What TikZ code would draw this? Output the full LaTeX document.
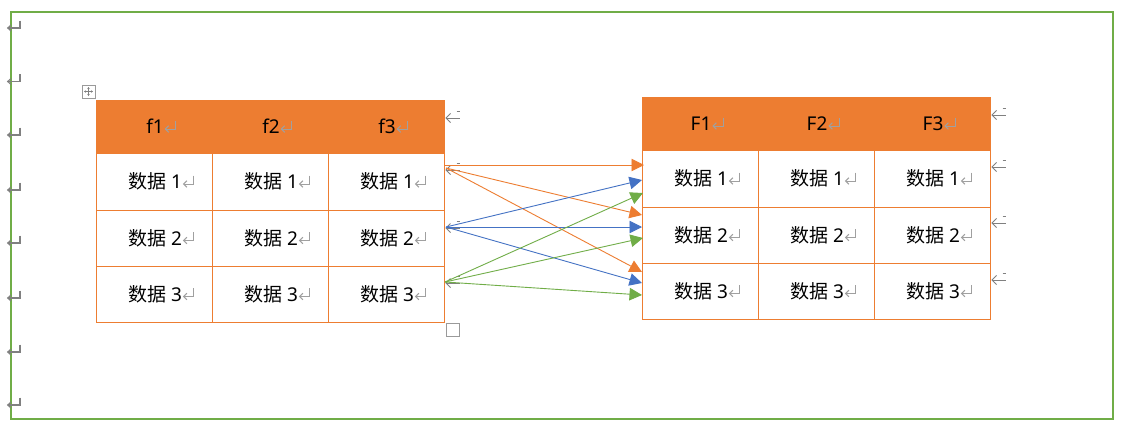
\documentclass[tikz,border=0pt]{standalone}
\usepackage{fontspec}
\setmainfont{Noto Sans}
\newfontfamily\cjk{Noto Sans CJK SC}
\usetikzlibrary{arrows.meta}
\definecolor{orangeA}{HTML}{ED7D31}
\definecolor{blueA}{HTML}{4472C4}
\definecolor{greenA}{HTML}{70AD47}
\definecolor{markgray}{HTML}{808080}
\definecolor{cellmarkc}{HTML}{A0A0A0}
\begin{document}
\begin{tikzpicture}[x=1pt,y=-1pt,
  cellbox/.style={draw=orangeA, line width=1pt, inner sep=0pt, outer sep=0pt, minimum width=116pt},
  headbox/.style={cellbox, fill=orangeA, minimum height=53pt},
  txt/.style={font=\fontsize{19pt}{21pt}\selectfont, inner sep=0pt, text=black},
  conn/.style={line width=0.9pt, -{Triangle[length=12.5pt,width=12.5pt]}},
  cellmark/.pic={\draw[cellmarkc, line width=1pt] (11.5,-6)--(11.5,2.5)--(1.5,2.5); \draw[cellmarkc, line width=1pt] (4.8,-0.8)--(1.5,2.5)--(4.8,5.8);},
  retmark/.pic={\draw[markgray, line width=1.2pt] (6,-7.5)--(6,0)--(-6,0); \draw[markgray, line width=1.1pt] (-3,-3)--(-6.3,0)--(-3,3);},
  rowmark/.pic={\draw[markgray, line width=1pt] (-7,0)--(7,0); \draw[markgray, line width=1pt] (-2.5,-4.5)--(-7,0)--(-2.5,4.5); \draw[markgray, line width=1pt] (3.5,-7)--(7,-7);}
]
\useasboundingbox (0,0) rectangle (1127,432);
\fill[white] (0,0) rectangle (1127,432);
% frame
\draw[greenA, line width=2pt] (11,12) rectangle (1113,419);
% left margin paragraph marks
\foreach \yy in {28,81.5,135,190,243,298,352,405} \pic at (14,\yy) {retmark};

% left table
\foreach \c/\x in {1/154,2/270,3/386} {
  \node[headbox] (Lh\c) at (\x,126.5) {};
  \node[cellbox, minimum height=57pt] (L1\c) at (\x,181.5) {};
  \node[cellbox, minimum height=56pt] (L2\c) at (\x,238) {};
  \node[cellbox, minimum height=56pt] (L3\c) at (\x,294) {};
  \node[txt, xshift=1pt] (Lht\c) at (Lh\c.center) {f\c};
  \node[txt, xshift=1pt] (L1t\c) at (L1\c.center) {{\cjk 数据} 1};
  \node[txt, xshift=1pt] (L2t\c) at (L2\c.center) {{\cjk 数据} 2};
  \node[txt, xshift=1pt] (L3t\c) at (L3\c.center) {{\cjk 数据} 3};
  \pic at (Lht\c.east) {cellmark};
  \pic at (L1t\c.east) {cellmark};
  \pic at (L2t\c.east) {cellmark};
  \pic at (L3t\c.east) {cellmark};
}
% right table
\foreach \c/\x in {1/700,2/816,3/932} {
  \node[headbox] (Rh\c) at (\x,123.5) {};
  \node[cellbox, minimum height=57pt] (R1\c) at (\x,178.5) {};
  \node[cellbox, minimum height=56pt] (R2\c) at (\x,235) {};
  \node[cellbox, minimum height=56pt] (R3\c) at (\x,291) {};
  \node[txt, xshift=1pt] (Rht\c) at (Rh\c.center) {F\c};
  \node[txt, xshift=1pt] (R1t\c) at (R1\c.center) {{\cjk 数据} 1};
  \node[txt, xshift=1pt] (R2t\c) at (R2\c.center) {{\cjk 数据} 2};
  \node[txt, xshift=1pt] (R3t\c) at (R3\c.center) {{\cjk 数据} 3};
  \pic at (Rht\c.east) {cellmark};
  \pic at (R1t\c.east) {cellmark};
  \pic at (R2t\c.east) {cellmark};
  \pic at (R3t\c.east) {cellmark};
}

% row end marks
\pic at (453,118) {rowmark};
\pic at (453,170) {rowmark};
\pic at (453,228) {rowmark};
\pic at (453,283) {rowmark};
\pic at (999,115) {rowmark};
\pic at (999,167) {rowmark};
\pic at (999,223) {rowmark};
\pic at (999,280) {rowmark};

% table move handle
\draw[markgray!80, line width=0.8pt] (82,85) rectangle (95,98);
\draw[markgray, line width=0.6pt, {Stealth[length=2pt,width=2.4pt]}-{Stealth[length=2pt,width=2.4pt]}] (84,91.5)--(93,91.5);
\draw[markgray, line width=0.6pt, {Stealth[length=2pt,width=2.4pt]}-{Stealth[length=2pt,width=2.4pt]}] (88.5,87)--(88.5,96);
% table end box
\draw[markgray!80, line width=0.8pt] (446,323) rectangle (459,336);

% connector end points
\coordinate (s1) at (445,165);
\coordinate (s1b) at (446,168);
\coordinate (s2) at (446,227);
\coordinate (s3) at (445,282);
\coordinate (o1) at (644,165);
\coordinate (o2) at (642,215);
\coordinate (o3) at (642,272);
\coordinate (b1) at (642,180);
\coordinate (b2) at (642,227);
\coordinate (b3) at (642,283);
\coordinate (g1) at (643,193);
\coordinate (g2) at (643,238);
\coordinate (g3) at (642,295);

\draw[conn, orangeA] (s1) -- (o1);
\draw[conn, orangeA] (s1b) -- (o2);
\draw[conn, orangeA] (s1b) -- (o3);
\draw[conn, blueA] (s2) -- (b1);
\draw[conn, blueA] (s2) -- (b2);
\draw[conn, blueA] (s2) -- (b3);
\draw[conn, greenA] (s3) -- (g1);
\draw[conn, greenA] (s3) -- (g2);
\draw[conn, greenA] (s3) -- (g3);
\end{tikzpicture}
\end{document}
